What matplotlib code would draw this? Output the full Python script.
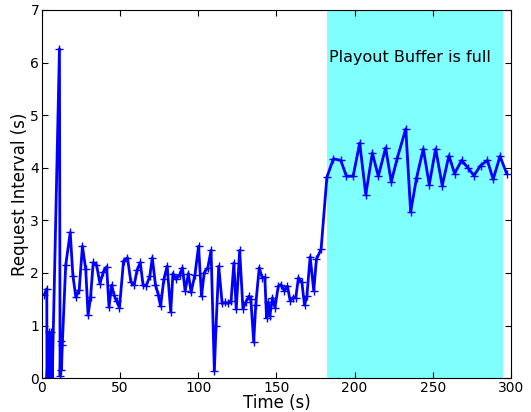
import matplotlib
matplotlib.use('Agg')
import matplotlib.pyplot as plt

# request interval samples over the session
time_s = [1.6, 3.1, 3.2, 4.3, 4.9, 5.9, 6.6, 11.2, 11.6, 12.0, 12.5, 13.0,
          15.2, 18.1, 19.8, 21.7, 23.8, 25.9, 28.0, 29.5, 31.1, 32.8, 34.9,
          37.1, 39.3, 41.4, 42.9, 44.6, 46.1, 47.9, 49.6, 52.2, 54.7, 56.9,
          59.1, 60.8, 62.9, 64.7, 66.8, 69.0, 70.6, 72.6, 74.4, 75.9, 78.0,
          80.1, 82.4, 83.8, 86.0, 88.1, 89.9, 91.6, 93.7, 95.4, 97.9, 100.2,
          102.1, 103.8, 106.1, 108.2, 110.3, 111.4, 113.1, 115.3, 117.4, 118.9,
          121.0, 122.8, 124.3, 126.5, 128.6, 130.3, 132.5, 133.6, 135.5, 136.8,
          139.0, 140.9, 142.6, 143.7, 144.8, 145.8, 147.5, 149.1, 151.2, 152.9,
          155.1, 157.1, 158.8, 160.5, 162.4, 164.1, 166.3, 168.0, 169.5, 171.6,
          173.9, 175.6, 178.6, 182.3, 186.5, 191.2, 194.8, 199.1, 203.3, 207.2,
          211.4, 215.2, 219.9, 223.5, 227.4, 232.8, 235.9, 239.7, 244.0, 247.8,
          251.9, 256.1, 260.4, 264.0, 268.5, 272.5, 276.4, 280.6, 285.0, 288.7,
          293.1, 297.3]
interval_s = [1.59, 1.70, 0.0, 0.87, 0.0, 0.87, 0.0, 6.26, 0.05, 0.71, 0.16, 0.63,
              2.15, 2.77, 1.95, 1.54, 1.67, 2.51, 2.07, 1.20, 1.54, 2.20, 2.16,
              1.80, 2.02, 2.12, 1.35, 1.77, 1.58, 1.46, 1.34, 2.23, 2.29, 1.83,
              1.78, 2.05, 2.20, 1.77, 1.76, 1.94, 2.29, 1.78, 1.59, 1.37, 1.88,
              2.13, 1.26, 1.99, 1.88, 1.97, 2.10, 1.66, 1.99, 1.63, 1.97, 2.51,
              1.56, 2.00, 2.10, 2.43, 0.14, 0.99, 2.13, 1.42, 1.44, 1.42,
              1.47, 2.19, 1.31, 2.43, 1.32, 1.44, 1.56, 1.51, 0.69, 1.40,
              2.10, 1.91, 1.92, 1.15, 1.44, 1.18, 1.53, 1.34, 1.75, 1.78,
              1.66, 1.75, 1.47, 1.53, 1.53, 1.91, 1.82, 1.39, 1.56, 2.31,
              1.66, 2.26, 2.45, 3.82, 4.17, 4.14, 3.84, 3.84, 4.47, 3.49,
              4.28, 3.84, 4.38, 3.73, 4.19, 4.74, 3.16, 3.81, 4.36, 3.68,
              4.36, 3.66, 4.23, 3.89, 4.14, 4.00, 3.85, 4.04, 4.14, 3.78,
              4.22, 3.89]

buffer_full = (182.4, 295.2)

fig = plt.figure(figsize=(5.31, 4.12), dpi=100)
ax = fig.add_axes([0.079, 0.082, 0.883, 0.894])

# shaded region where the playout buffer stays full
ax.axvspan(buffer_full[0], buffer_full[1], facecolor='#80ffff', edgecolor='none')
ax.text(buffer_full[0] + 1, 6.1, 'Playout Buffer is full', fontsize=11.5, va='center')

ax.plot(time_s, interval_s, color='blue', linewidth=2, marker='+', ms=6, mew=1)

ax.set_xlim(0, 300)
ax.set_ylim(0, 7)
ax.set_xlabel('Time (s)', fontsize=12, labelpad=-1)
ax.set_ylabel('Request Interval (s)', fontsize=12, labelpad=1)
ax.tick_params(direction='in', top=True, right=True, labelsize=10, length=4, pad=2)

fig.savefig('out.png', dpi=100)
